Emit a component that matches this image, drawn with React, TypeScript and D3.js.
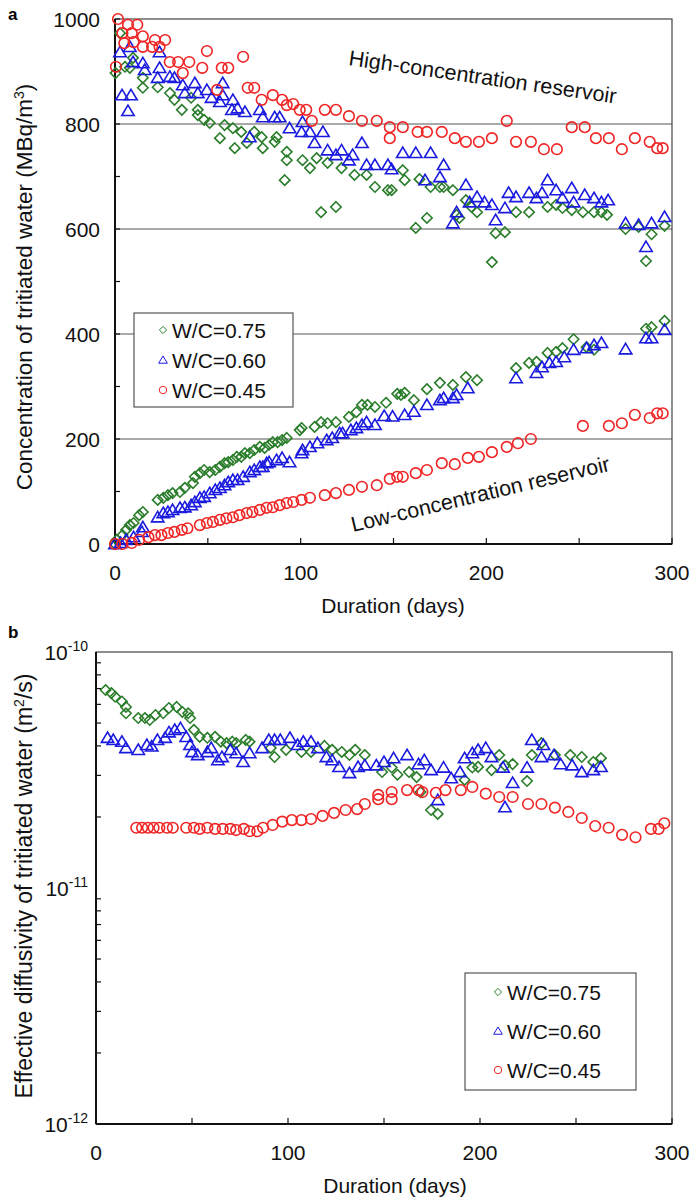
import React from 'react';
import * as d3 from 'd3';

// panel a, high-concentration reservoir: [day, MBq/m3]
const highW075: [number, number][] = [
  [2.7, 973], [0.3, 897], [5.4, 909], [9.7, 926], [8, 907], [15, 888], [15, 869], [23, 870], [29.6, 859], [32, 846],
  [36, 827], [41, 850], [44.6, 827], [44.6, 817], [48, 808], [51, 802], [56.5, 773], [59, 798], [63.5, 792], [64.5, 754],
  [68, 785], [71, 764], [75, 785], [79, 775], [79.6, 754], [86, 766], [87, 775], [92.5, 747], [92.5, 731], [91.4, 693],
  [101, 731], [105, 716], [108.6, 735], [111, 632], [114.5, 726], [119, 642], [122, 716], [129, 703], [135.5, 703], [140, 680],
  [147, 674], [149, 674], [155, 712], [156, 693], [164, 695], [170, 680], [175, 680], [177, 680], [182, 674], [189, 655],
  [192, 642], [195, 632], [185.5, 621], [184, 627], [168, 621], [162, 602], [205, 592], [210, 594], [203, 537], [216, 632],
  [223, 632], [233, 642], [237.6, 646], [241, 640], [246, 636], [252, 632], [258, 632], [262, 632], [265, 627], [275, 600],
  [282, 604], [289, 590], [286, 539], [296, 606],
];
const highW060: [number, number][] = [
  [2.7, 937], [8, 947], [3.8, 855], [8.6, 855], [7, 825], [9.7, 918], [15, 916], [16, 903], [24, 937], [24, 907],
  [23, 888], [29.5, 890], [32, 888], [36.5, 874], [43, 878], [37.6, 859], [44.6, 859], [49.5, 865], [52, 850], [58, 878],
  [58, 855], [56.5, 842], [63.5, 846], [63, 827], [66, 830], [70, 823], [78, 827], [79.6, 813], [86, 813], [88.7, 813],
  [72.6, 775], [94, 792], [101, 804], [100.5, 785], [105, 785], [112, 785], [107.5, 764], [114.5, 750], [122, 750], [119, 741],
  [128, 741], [133, 764], [126, 731], [135.5, 722], [140, 722], [147, 722], [149, 714], [155, 745], [162, 745], [170, 745],
  [177, 722], [167, 693], [175, 699], [189, 684], [184, 632], [182, 611], [191, 651], [195, 661], [199, 651], [203, 646],
  [205, 617], [210, 640], [212, 669], [216, 661], [223, 669], [227, 659], [230, 669], [233, 693], [237.6, 674], [241, 659],
  [246, 678], [247, 651], [253, 665], [258, 659], [262, 651], [265.6, 655], [275, 611], [282, 608], [289, 611], [286, 566],
  [296, 623],
];
const highW045: [number, number][] = [
  [1.6, 1000], [4, 973], [5, 954], [7, 989], [9, 973], [10, 956], [12, 989], [15, 967], [15, 947], [20, 947],
  [21.5, 960], [24, 947], [27, 960], [0.5, 909], [29.5, 918], [34, 918], [36.5, 897], [40, 918], [47, 907], [49.5, 939],
  [55, 865], [57.5, 907], [61, 907], [69, 928], [71.5, 869], [75, 869], [79, 846], [85, 855], [90, 846], [92.5, 836],
  [96, 838], [99.5, 827], [103, 827], [106, 806], [113, 827], [119, 827], [126, 815], [133, 806], [141, 806], [148, 794],
  [148, 773], [155, 794], [163, 785], [168, 785], [176, 785], [183, 773], [189, 766], [196, 766], [203, 773], [211, 806],
  [216, 766], [224, 766], [231, 752], [238, 752], [246, 794], [253, 794], [259, 773], [266, 773], [273, 752], [280, 773],
  [288, 766], [292, 754], [295, 754],
];

// panel a, low-concentration reservoir: [day, MBq/m3]
const lowW075: [number, number][] = [
  [0, 0], [1, 8], [4, 17], [6, 27], [8, 36], [10, 40], [13, 55], [15, 61], [23, 84], [26, 88],
  [28.5, 93], [31, 97], [35, 99], [37.6, 107], [42, 116], [43, 128], [45.7, 135], [48, 141], [51, 137], [54, 141],
  [56.5, 147], [59, 154], [61, 156], [63.5, 160], [65.6, 166], [68, 166], [70, 173], [72.6, 173], [75, 179], [78, 185],
  [80.6, 183], [83, 189], [85, 194], [87.6, 194], [90, 198], [92.5, 202], [99.5, 217], [100.5, 221], [107.5, 223], [111, 232],
  [114.5, 230], [119, 232], [126, 242], [130, 251], [133, 265], [136, 265], [140, 261], [146, 269], [152, 286], [154, 284],
  [156, 288], [161, 274], [168, 295], [175, 307], [182, 303], [189, 318], [195, 312], [216, 335], [223, 345], [227, 347],
  [233, 364], [237.6, 366], [241, 373], [247, 390], [254, 375], [258, 370], [286, 410], [289, 413], [296, 425],
];
const lowW060: [number, number][] = [
  [0, 0], [3, 2], [6, 8], [10, 13], [14.5, 23], [15, 32], [23, 51], [26, 59], [28.5, 61], [31, 65],
  [35, 69], [37.6, 70], [41, 74], [43, 80], [45.7, 88], [48, 90], [51, 97], [54, 103], [56.5, 107], [59, 112],
  [61, 118], [63.5, 122], [66, 122], [69, 128], [72.6, 137], [75, 141], [78, 147], [79.6, 147], [81.7, 154], [83, 156],
  [87, 160], [90, 164], [94, 156], [100.5, 173], [101, 179], [105, 185], [109, 192], [114, 198], [117, 202], [121, 211],
  [122.6, 211], [127, 217], [130, 221], [133, 227], [135.5, 232], [140, 227], [145, 244], [149.5, 243], [156, 246], [161, 252],
  [168, 265], [175, 274], [177, 278], [182, 278], [184, 284], [190, 297], [216, 316], [227, 326], [230, 337], [234, 345],
  [237.6, 347], [242, 356], [247, 370], [254, 373], [258, 379], [262, 383], [275, 371], [286, 392], [289, 392], [296, 408],
];
const lowW045: [number, number][] = [
  [0, 0], [4, 0], [9, 2], [13, 8], [18, 13], [21.5, 17], [25, 17], [28.5, 21], [32, 23], [36, 27],
  [39, 30], [45.7, 36], [49.5, 40], [52.7, 42], [56.5, 46], [60, 49], [63.5, 51], [67, 55], [71, 59], [74, 61],
  [78, 65], [81.7, 69], [85, 70], [88.7, 74], [92.5, 78], [96, 80], [100.5, 84], [105, 88], [113, 93], [119, 97],
  [126, 103], [133, 109], [141, 112], [148, 124], [152, 128], [155, 128], [162, 135], [168, 141], [176, 154], [183, 152],
  [190, 164], [196, 166], [203, 175], [211, 185], [217, 192], [224, 200], [252, 225], [266, 225], [273, 230], [280, 246],
  [288, 240], [292, 249], [295, 249],
];

// panel b: [day, effective diffusivity in 1e-11 m2/s]
const diffW075: [number, number][] = [
  [5, 6.9], [8, 6.7], [10, 6.46], [13.5, 6.17], [15.6, 5.85], [15.6, 5.5], [22, 5.25], [25.5, 5.25], [28, 5.15], [31, 5.41],
  [35, 5.5], [38, 5.79], [42, 5.85], [45, 5.57], [48, 5.5], [49, 5.25], [51, 4.68], [54, 4.37], [58, 4.33], [62, 4.37],
  [65, 4.17], [68, 4.11], [71, 4.17], [73, 4.11], [78, 4.24], [80, 4.17], [91, 3.92], [93, 3.59], [99, 3.85], [107, 3.77],
  [112, 3.77], [119, 4.0], [123, 3.85], [128, 3.77], [132, 3.66], [135, 3.85], [140, 3.66], [149, 3.1], [154, 3.24], [157, 3.02],
  [163, 3.1], [167, 2.95], [169, 2.55], [174.5, 2.14], [178, 2.06], [192, 2.87], [196, 3.24], [199, 3.26], [206, 3.16], [210, 3.66],
  [213, 3.31], [217, 3.35], [224.5, 2.84], [227, 3.66], [232, 4.11], [239, 3.66], [247, 3.66], [253, 3.59], [259, 3.42], [263, 3.55],
];
const diffW060: [number, number][] = [
  [6, 4.33], [9, 4.24], [13.5, 4.17], [15.6, 3.92], [22, 3.85], [26.5, 4.04], [29, 3.98], [32, 4.24], [36, 4.33], [38, 4.57],
  [41, 4.68], [44, 4.76], [47, 4.37], [49, 4.04], [50, 3.77], [53, 3.66], [58, 3.77], [60, 3.92], [63.5, 3.48], [65.6, 3.59],
  [70, 3.85], [73, 3.73], [76.6, 3.42], [80, 3.73], [86.5, 3.92], [90, 4.24], [93, 4.24], [96, 4.24], [101, 4.33], [105, 4.04],
  [108, 4.17], [112, 4.17], [115.6, 3.92], [120, 3.59], [123, 3.48], [126.6, 3.26], [132, 3.07], [136.5, 3.26], [140, 3.31], [146, 3.31],
  [150, 3.42], [155, 3.55], [162, 3.66], [168, 3.35], [171, 3.48], [174.5, 3.16], [178, 2.36], [181, 3.24], [185, 2.92], [189.6, 3.1],
  [192, 3.55], [196, 3.73], [199, 3.85], [203, 3.92], [206, 3.59], [212, 3.24], [213, 2.2], [217, 2.79], [224.5, 3.24], [227, 4.24],
  [232, 3.59], [233, 4.04], [238.5, 3.66], [242, 3.35], [248, 3.31], [253, 3.1], [259, 3.16], [263, 3.26],
];
const diffW045: [number, number][] = [
  [21, 1.8], [24, 1.8], [27, 1.8], [30, 1.8], [33, 1.8], [37, 1.8], [40, 1.8], [47, 1.8], [51, 1.8], [54, 1.78],
  [58, 1.8], [62, 1.78], [66, 1.78], [70, 1.78], [73, 1.76], [77, 1.78], [80, 1.74], [84, 1.74], [87, 1.8], [92, 1.85],
  [97, 1.91], [102, 1.94], [107, 1.94], [112, 1.96], [118, 2.02], [124, 2.08], [130, 2.14], [136, 2.16], [140, 2.27], [147, 2.38],
  [147, 2.48], [154, 2.38], [154, 2.55], [162, 2.6], [168, 2.6], [170, 2.55], [177, 2.53], [182, 2.6], [190, 2.6], [196, 2.68],
  [203, 2.51], [210, 2.43], [217, 2.43], [225, 2.27], [232, 2.27], [239, 2.19], [246, 2.1], [253, 1.98], [260, 1.83], [267, 1.8],
  [274, 1.68], [281, 1.64], [289, 1.78], [293, 1.78], [296, 1.88],
];

const legendLabels = ['W/C=0.75', 'W/C=0.60', 'W/C=0.45'];
const dayTicks = [0, 50, 100, 150, 200, 250, 300];
const dayLabels = [0, 100, 200, 300];
const concTicks = [0, 100, 200, 300, 400, 500, 600, 700, 800, 900, 1000];
const concLabels = [0, 200, 400, 600, 800, 1000];
const concGrid = [200, 400, 600, 800];
const diffExponents = [-10, -11, -12];

const GREEN = '#2a7d2a';
const BLUE = '#1a1ae0';
const RED = '#f02424';
const FONT = '"Liberation Sans", Arial, sans-serif';

type Shape = 'diamond' | 'triangle' | 'circle';

const Marker: React.FC<{ shape: Shape; x: number; y: number; color: string; s?: number; w?: number }> = ({ shape, x, y, color, s = 1, w = 1.6 }) => {
  if (shape === 'circle') {
    return <circle cx={x} cy={y} r={5.3 * s} fill="none" stroke={color} strokeWidth={w} />;
  }
  const d = shape === 'triangle'
    ? `M${x},${y - 5.8 * s}L${x + 6.2 * s},${y + 4.6 * s}L${x - 6.2 * s},${y + 4.6 * s}Z`
    : `M${x},${y - 5.2 * s}L${x + 5.2 * s},${y}L${x},${y + 5.2 * s}L${x - 5.2 * s},${y}Z`;
  return <path d={d} fill="none" stroke={color} strokeWidth={w} />;
};

const series: { shape: Shape; color: string }[] = [
  { shape: 'diamond', color: GREEN },
  { shape: 'triangle', color: BLUE },
  { shape: 'circle', color: RED },
];

const App: React.FC = () => {
  // panel a
  const ax = d3.scaleLinear().domain([0, 300]).range([115, 672]);
  const ay = d3.scaleLinear().domain([0, 1000]).range([544, 19]);
  // panel b
  const bx = d3.scaleLinear().domain([0, 300]).range([96, 672]);
  const by = d3.scaleLog().domain([1e-12, 1e-10]).range([1124, 652]);

  const aSets = [
    [highW075, lowW075],
    [highW060, lowW060],
    [highW045, lowW045],
  ];
  const bSets = [diffW075, diffW060, diffW045];

  const minorLog: number[] = [];
  [-12, -11].forEach(e => {
    for (let m = 2; m <= 9; m++) minorLog.push(m * Math.pow(10, e));
  });

  return (
    <div style={{ position: 'absolute', left: 0, top: 0 }}>
      <svg width={693} height={1201} style={{ display: 'block', fontFamily: FONT }}>
        <rect width={693} height={1201} fill="#fff" />

        {/* ---------- panel a ---------- */}
        <text x={8} y={20} fontSize={17} fontWeight="bold">a</text>
        {concGrid.map(v => (
          <line key={v} x1={ax(0)} x2={ax(300)} y1={ay(v)} y2={ay(v)} stroke="#555" strokeWidth={1} />
        ))}
        <rect x={ax(0)} y={ay(1000)} width={ax(300) - ax(0)} height={ay(0) - ay(1000)} fill="none" stroke="#444" strokeWidth={1.2} />
        <line x1={ax(0)} x2={ax(0)} y1={ay(1000)} y2={ay(0)} stroke="#111" strokeWidth={2} />
        <line x1={ax(0)} x2={ax(300)} y1={ay(0)} y2={ay(0)} stroke="#111" strokeWidth={2} />
        {concTicks.map(v => (
          <line key={v} x1={ax(0)} x2={ax(0) + 5} y1={ay(v)} y2={ay(v)} stroke="#111" strokeWidth={1.2} />
        ))}
        {dayTicks.map(v => (
          <line key={v} x1={ax(v)} x2={ax(v)} y1={ay(0)} y2={ay(0) - 6} stroke="#111" strokeWidth={1.2} />
        ))}
        {concLabels.map(v => (
          <text key={v} x={100} y={ay(v)} dy="0.36em" textAnchor="end" fontSize={21} fill="#111">{v}</text>
        ))}
        {dayLabels.map(v => (
          <text key={v} x={ax(v)} y={580} textAnchor="middle" fontSize={21} fill="#111">{v}</text>
        ))}
        <text x={393} y={613} textAnchor="middle" fontSize={21} fill="#111">Duration (days)</text>
        <text transform={`translate(32,287) rotate(-90)`} textAnchor="middle" fontSize={22.5} fill="#111">
          Concentration of tritiated water (MBq/m<tspan dy={-8} fontSize={14}>3</tspan><tspan dy={8}>)</tspan>
        </text>
        <text transform={`translate(348,65) rotate(8.2)`} fontSize={21.5} fill="#111">High-concentration reservoir</text>
        <text transform={`translate(353,532) rotate(-13.4)`} fontSize={21.5} fill="#111">Low-concentration reservoir</text>

        {aSets.map((sets, i) =>
          sets.map((pts, j) =>
            pts.map((p, k) => (
              <Marker key={`a${i}-${j}-${k}`} shape={series[i].shape} color={series[i].color} x={ax(p[0])} y={ay(p[1])} />
            ))
          )
        )}

        <rect x={134} y={313} width={159} height={94} fill="#fff" stroke="#555" strokeWidth={1.2} />
        {legendLabels.map((l, i) => (
          <g key={l}>
            <Marker shape={series[i].shape} color={series[i].color} x={163} y={330 + i * 30} s={0.7} w={1} />
            <text x={172} y={330 + i * 30} dy="0.36em" fontSize={21} fill="#111">{l}</text>
          </g>
        ))}

        {/* ---------- panel b ---------- */}
        <text x={8} y={638} fontSize={17} fontWeight="bold">b</text>
        <rect x={bx(0)} y={by(1e-10)} width={bx(300) - bx(0)} height={by(1e-12) - by(1e-10)} fill="none" stroke="#444" strokeWidth={1.2} />
        <line x1={bx(0)} x2={bx(0)} y1={by(1e-10)} y2={by(1e-12)} stroke="#111" strokeWidth={2} />
        <line x1={bx(0)} x2={bx(300)} y1={by(1e-12)} y2={by(1e-12)} stroke="#111" strokeWidth={2} />
        {minorLog.map(v => (
          <line key={v} x1={bx(0)} x2={bx(0) + 5} y1={by(v)} y2={by(v)} stroke="#111" strokeWidth={1.2} />
        ))}
        {dayTicks.map(v => (
          <line key={v} x1={bx(v)} x2={bx(v)} y1={by(1e-12)} y2={by(1e-12) - 6} stroke="#111" strokeWidth={1.2} />
        ))}
        {diffExponents.map(e => (
          <text key={e} x={88} y={by(Math.pow(10, e))} dy="0.36em" textAnchor="end" fontSize={21} fill="#111">
            10<tspan dy={-9} fontSize={14}>{e}</tspan>
          </text>
        ))}
        {dayLabels.map(v => (
          <text key={v} x={bx(v)} y={1160} textAnchor="middle" fontSize={21} fill="#111">{v}</text>
        ))}
        <text x={395} y={1193} textAnchor="middle" fontSize={21} fill="#111">Duration (days)</text>
        <text transform={`translate(32,886) rotate(-90)`} textAnchor="middle" fontSize={23} fill="#111">
          Effective diffusivity of tritiated water (m<tspan dy={-8} fontSize={14}>2</tspan><tspan dy={8}>/s)</tspan>
        </text>

        {bSets.map((pts, i) =>
          pts.map((p, k) => (
            <Marker key={`b${i}-${k}`} shape={series[i].shape} color={series[i].color} x={bx(p[0])} y={by(p[1] * 1e-11)} />
          ))
        )}

        <rect x={465} y={973} width={171} height={117} fill="#fff" stroke="#555" strokeWidth={1.2} />
        {legendLabels.map((l, i) => (
          <g key={l}>
            <Marker shape={series[i].shape} color={series[i].color} x={498} y={992 + i * 39} s={0.7} w={1} />
            <text x={507} y={992 + i * 39} dy="0.36em" fontSize={21} fill="#111">{l}</text>
          </g>
        ))}
      </svg>
    </div>
  );
};

export default App;
